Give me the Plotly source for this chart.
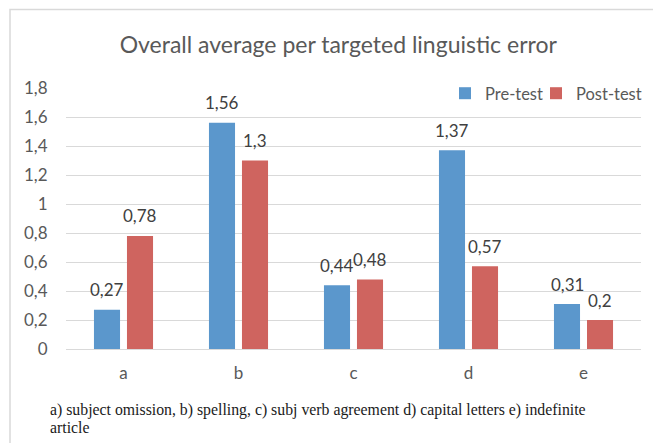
import plotly.graph_objects as go

categories = ["a", "b", "c", "d", "e"]
pre_test = [0.27, 1.56, 0.44, 1.37, 0.31]
post_test = [0.78, 1.30, 0.48, 0.57, 0.20]
y_ticks = [0, 0.2, 0.4, 0.6, 0.8, 1.0, 1.2, 1.4, 1.6, 1.8]
title_text = "Overall average per targeted linguistic error"
caption_lines = [
    "a) subject omission, b) spelling, c) subj verb agreement d) capital letters e) indefinite",
    "article",
]


def fmt(v):
    return ("%g" % v).replace(".", ",")


FONT = "Lato"
GREY = "#595959"
BAR_OFFSET_PX = 16.5  # half of one bar slot in the group

fig = go.Figure()
fig.add_trace(go.Bar(
    name="Pre-test", x=categories, y=pre_test, legend="legend", showlegend=True,
    marker=dict(color="#5B97CC", line=dict(width=0)),
))
fig.add_trace(go.Bar(
    name="Post-test", x=categories, y=post_test, legend="legend2", showlegend=True,
    marker=dict(color="#CF645F", line=dict(width=0)),
))

# data labels placed above each bar
for series, shift in ((pre_test, -BAR_OFFSET_PX), (post_test, BAR_OFFSET_PX)):
    for cat, val in zip(categories, series):
        fig.add_annotation(x=cat, y=val, xref="x", yref="y", text=fmt(val),
                           showarrow=False, xshift=shift, yshift=20,
                           xanchor="center", yanchor="middle",
                           font=dict(family=FONT, size=17, color="#404040"))

legend_style = dict(orientation="h", xanchor="right", y=0.979, yanchor="middle",
                    bgcolor="rgba(0,0,0,0)", font=dict(family=FONT, size=16.5, color=GREY),
                    itemwidth=30, visible=True)

fig.update_layout(
    width=653, height=443,
    showlegend=True,
    margin=dict(l=66, r=12, t=88, b=94, autoexpand=False),
    paper_bgcolor="white", plot_bgcolor="white",
    separators=",.",
    barmode="group", bargap=0.426, bargroupgap=0.21,
    font=dict(family=FONT, color=GREY, size=16),
    title=dict(text=title_text, x=0.518, xref="container", xanchor="center",
               y=1 - 45 / 443, yref="container", yanchor="middle",
               font=dict(family=FONT, size=23, color=GREY)),
    legend=dict(x=(548 - 66) / 575, **legend_style),
    legend2=dict(x=(647 - 66) / 575, **legend_style),
)
fig.update_xaxes(showgrid=False, showline=False, zeroline=False,
                 ticks="outside", ticklen=9, tickcolor="rgba(0,0,0,0)",
                 tickfont=dict(family=FONT, size=17, color=GREY))
fig.update_yaxes(range=[0, 1.8], tickvals=y_ticks, showgrid=True, gridcolor="#D9D9D9",
                 gridwidth=1, zeroline=True, zerolinecolor="#D9D9D9", zerolinewidth=1,
                 showline=False, ticks="outside", ticklen=14, tickcolor="rgba(0,0,0,0)",
                 tickfont=dict(family=FONT, size=17, color=GREY))

# chart border (extends past right/bottom edge in the reference)
fig.add_shape(type="rect", xref="paper", yref="paper",
              x0=(10 - 66) / 575, x1=(700 - 66) / 575,
              y0=(349 - 500) / 261, y1=(349 - 9.5) / 261,
              line=dict(color="#D9D9D9", width=1.5), fillcolor="rgba(0,0,0,0)", layer="below")

for i, line in enumerate(caption_lines):
    fig.add_annotation(text=line, xref="paper", yref="paper",
                       x=(47.5 - 66) / 575, xanchor="left",
                       y=(349 - (410 + 17 * i)) / 261, yanchor="middle",
                       showarrow=False,
                       font=dict(family="Liberation Serif", size=15.8, color="#1a1a1a"))

fig.write_html("out.html", config={"displayModeBar": False},
               post_script="document.body.style.margin='0';")
